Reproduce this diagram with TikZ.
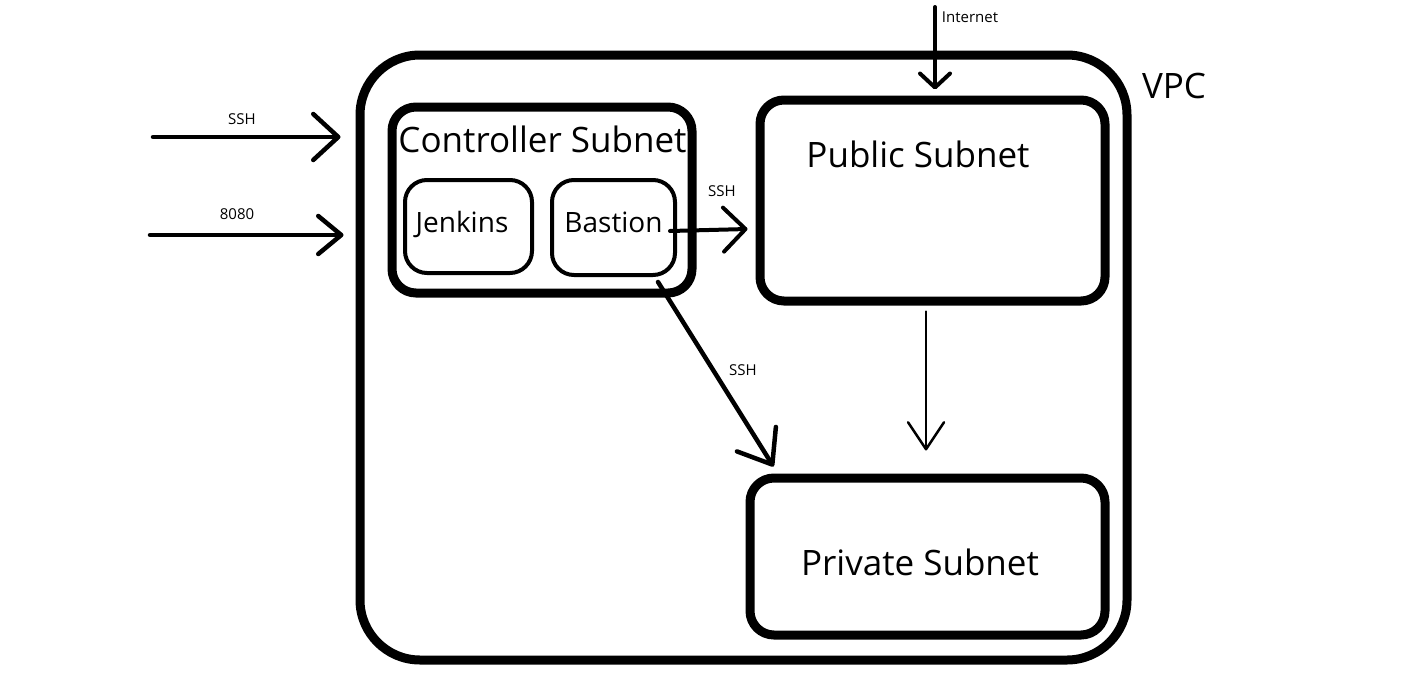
\documentclass[tikz,border=0pt]{standalone}
\usepackage{fontspec}
\setmainfont{Open Sans}
\usetikzlibrary{arrows.meta}

\tikzset{
  vpcbox/.style={draw, line width=9pt, rounded corners=60pt, inner sep=0pt},
  subnet/.style={draw, line width=9pt, rounded corners=24pt, inner sep=0pt},
  host/.style={draw, line width=4pt, rounded corners=22pt, inner sep=0pt},
  bigtext/.style={font=\fontsize{35}{40}\selectfont, inner sep=0pt, anchor=base},
  hosttext/.style={font=\fontsize{28}{34}\selectfont, inner sep=0pt, anchor=base},
  smalltext/.style={font=\fontsize{15}{18}\selectfont, inner sep=0pt, anchor=base},
  arr/.style={line width=4.5pt, line cap=round}
}

\begin{document}
\begin{tikzpicture}[x=1pt, y=-1pt]
        \useasboundingbox (0,0) rectangle (1416,672);

        % Drawing the boxes
        \node[vpcbox, minimum width=767pt, minimum height=605pt] (vpc) at (743.5,357.5) {};
        \node[subnet, minimum width=300pt, minimum height=186pt] (ctrl) at (542,200) {};
        \node[host, minimum width=127pt, minimum height=93pt] (jenkins) at (468.5,226.5) {};
        \node[host, minimum width=123pt, minimum height=95pt] (bastion) at (613.5,227.5) {};
        \node[subnet, minimum width=345pt, minimum height=201pt] (public) at (932.5,200.5) {};
        \node[subnet, minimum width=355pt, minimum height=157pt] (private) at (927.5,556.5) {};

        % Box titles
        \node[bigtext] (vpclabel) at (1174,98) {VPC};
        \node[bigtext] (ctrllabel) at (542.5,152) {Controller Subnet};
        \node[hosttext] (jenkinslabel) at (462,232) {Jenkins};
        \node[hosttext] (bastionlabel) at (613.5,232) {Bastion};
        \node[bigtext] (publiclabel) at (918,167) {Public Subnet};
        \node[bigtext] (privatelabel) at (920,575) {Private Subnet};

        % Incoming traffic
        \coordinate (sshin) at (153,137);
        \coordinate (webin) at (150,235);
        \coordinate (netin) at (935,7);
        \draw[arr, -{Straight Barb[length=25pt, width=46pt, round]}] (sshin) -- ([xshift=-15pt]sshin -| vpc.west);
        \draw[arr, -{Straight Barb[length=23pt, width=38pt, round]}] (webin) -- ([xshift=-12pt]webin -| vpc.west);
        \draw[arr, line width=4pt, -{Straight Barb[length=14pt, width=30pt, round]}] (netin) -- ([shift={(2.5,-6)}]public.north);
        \node[smalltext] (sshlabel) at (242,124) {SSH};
        \node[smalltext] (weblabel) at (237,219) {8080};
        \node[smalltext] (netlabel) at (970,22) {Internet};

        % Traffic inside the VPC
        \draw[arr, line width=4pt, -{Straight Barb[length=22pt, width=44pt, round]}] ([shift={(-7,3.5)}]bastion.east) -- ([shift={(-8,28.5)}]public.west);
        \draw[arr, -{Straight Barb[length=30pt, width=46pt, round]}] ([shift={(-19,5)}]bastion.south east) -- ([shift={(28,-7)}]private.north west);
        \draw[arr, line width=2.5pt, -{Straight Barb[length=27pt, width=36pt, round]}] ([shift={(-6.5,6)}]public.south) -- ([shift={(-1.5,-23)}]private.north);
        \node[smalltext] (bpublabel) at (722,196) {SSH};
        \node[smalltext] (bprivlabel) at (743,375) {SSH};
    \end{tikzpicture}
\end{document}
